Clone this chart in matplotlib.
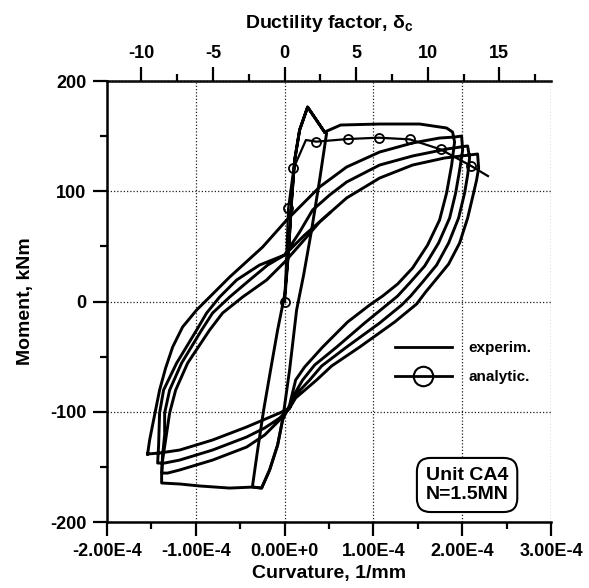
import matplotlib
matplotlib.use("Agg")
import matplotlib.pyplot as plt
from matplotlib.lines import Line2D
from matplotlib.ticker import MultipleLocator, FuncFormatter
import math

plt.rcParams['font.family'] = ['Liberation Sans', 'DejaVu Sans']
plt.rcParams['font.weight'] = 'bold'
plt.rcParams['axes.unicode_minus'] = False
plt.rcParams['mathtext.fontset'] = 'custom'
plt.rcParams['mathtext.rm'] = 'Liberation Sans:bold'
plt.rcParams['mathtext.it'] = 'Liberation Sans:bold'
plt.rcParams['mathtext.bf'] = 'Liberation Sans:bold'

# ---------------- data (curvature in 1E-4 1/mm, moment in kNm) ----------------
CURV_UNIT = 1e-4
YIELD_CURV = 1.612e-5   # curvature at ductility factor 1

# first small cycle (virgin loading, narrow loop)
narrow = [(0.0, 0.0), (0.045, 46.7), (0.079, 92.1), (0.113, 128.3), (0.169, 155.6),
          (0.259, 176.4), (0.45, 153.7), (0.473, 152.8), (0.394, 110.2), (0.304, 64.9),
          (0.214, 24.0), (0.135, -7.7), (0.056, -62.1), (-0.023, -107.5), (-0.079, -130.2),
          (-0.169, -152.8), (-0.259, -169.2), (-0.360, -168.3), (-0.360, -166.4),
          (-0.304, -134.7), (-0.236, -98.4), (-0.158, -62.1), (-0.079, -25.9), (0.0, 5.9),
          (0.045, 46.7), (0.079, 92.1), (0.113, 128.3), (0.169, 155.6), (0.259, 176.4),
          (0.45, 153.7)]

# first large cycle
cycle1 = [(0.45, 153.7), (0.631, 160.1), (1.070, 161.0), (1.520, 161.0), (1.824, 157.4),
          (1.892, 153.7), (1.914, 144.7), (1.881, 123.8), (1.824, 98.4), (1.745, 73.9),
          (1.610, 51.2), (1.441, 30.4), (1.273, 15.9), (1.104, 5.0), (0.957, -3.2),
          (0.709, -18.6), (0.428, -41.3), (0.225, -59.4), (0.124, -71.2), (0.056, -93.9),
          (-0.023, -107.5), (-0.079, -130.2), (-0.169, -152.8), (-0.259, -169.2),
          (-0.360, -168.3), (-0.619, -169.2), (-0.957, -167.3), (-1.182, -165.5),
          (-1.385, -164.6), (-1.385, -157.4), (-1.374, -143.8), (-1.340, -125.6),
          (-1.295, -101.1), (-1.227, -80.3), (-1.092, -55.8), (-0.845, -25.9),
          (-0.698, -10.4), (-0.473, 4.1), (-0.203, 19.5), (0.0, 35.8), (0.169, 51.2),
          (0.394, 72.1), (0.507, 80.3)]

# reloading from last negative peak up to second positive peak
reload_outer = [(-1.543, -138.3), (-1.520, -125.6), (-1.498, -116.6), (-1.453, -98.4),
                (-1.408, -80.3), (-1.340, -60.3), (-1.261, -41.3), (-1.149, -23.1),
                (-0.991, -7.7), (-0.788, 8.6), (-0.619, 22.2), (-0.248, 49.4),
                (0.023, 73.9), (0.394, 103.9), (0.698, 122.0), (1.070, 135.6),
                (1.441, 143.8), (1.745, 148.3), (1.914, 149.2), (1.993, 150.1)]

cycle2 = [(2.005, 137.4), (1.971, 119.3), (1.926, 98.4), (1.858, 75.7), (1.734, 53.1),
          (1.577, 32.2), (1.408, 16.8), (1.273, 5.0), (1.149, -3.2), (0.901, -19.5),
          (0.586, -41.3), (0.338, -57.6), (0.203, -71.2), (0.079, -88.4), (0.056, -96.6),
          (-0.056, -107.5), (-0.225, -121.1), (-0.428, -132.0), (-0.811, -143.8),
          (-1.182, -152.8), (-1.318, -155.6), (-1.385, -155.6), (-1.374, -139.2),
          (-1.351, -121.1), (-1.351, -101.1), (-1.295, -80.3), (-1.160, -55.8),
          (-0.935, -25.9), (-0.811, -10.4), (-0.619, 4.1), (-0.394, 19.5), (-0.191, 33.1),
          (0.0, 42.2), (0.169, 63.0), (0.315, 83.0), (0.507, 96.6), (0.698, 108.4),
          (1.070, 123.8), (1.441, 132.0), (1.824, 138.3), (2.061, 141.1)]

cycle3 = [(2.083, 130.2), (2.061, 114.7), (2.027, 98.4), (1.959, 75.7), (1.847, 53.1),
          (1.712, 33.1), (1.554, 17.7), (1.419, 5.0), (1.318, -3.2), (1.070, -19.5),
          (0.698, -41.3), (0.417, -58.5), (0.282, -71.2), (0.101, -86.6), (0.056, -96.6),
          (-0.056, -105.7), (-0.225, -114.7), (-0.428, -122.9), (-0.811, -134.7),
          (-1.182, -143.8), (-1.351, -146.5), (-1.430, -146.5), (-1.419, -130.2),
          (-1.408, -101.1), (-1.363, -80.3), (-1.216, -55.8), (-0.991, -25.9),
          (-0.878, -10.4), (-0.732, 4.1), (-0.541, 19.5), (-0.282, 33.1), (0.0, 42.2),
          (0.225, 60.3), (0.507, 80.3), (0.698, 93.9), (1.070, 112.0), (1.441, 123.8),
          (1.802, 130.2), (2.083, 132.9), (2.173, 133.8)]

cycle4 = [(2.185, 121.1), (2.162, 110.2), (2.128, 98.4), (2.061, 75.7), (1.971, 53.1),
          (1.847, 34.0), (1.700, 19.5), (1.588, 8.6), (1.486, -2.3), (1.239, -18.6),
          (0.845, -41.3), (0.529, -58.5), (0.360, -71.2), (0.124, -87.5), (0.056, -96.6),
          (-0.056, -101.1), (-0.428, -113.8), (-0.811, -125.6), (-1.182, -134.7),
          (-1.408, -137.4), (-1.543, -138.3)]

# analytical prediction
analytic_curv = [0.0, 0.04, 0.10, 0.24, 0.357, 0.713, 1.059, 1.408, 1.757, 2.102, 2.29]
analytic_moment = [0.0, 84.5, 120.8, 146.5, 145.0, 147.4, 148.6, 147.1, 138.0, 122.9, 113.8]
analytic_marked = [0, 1, 2, 4, 5, 6, 7, 8, 9]

curv_ticks = [-2e-4, -1e-4, 0.0, 1e-4, 2e-4, 3e-4]
moment_ticks = [-200, -100, 0, 100, 200]
ductility_ticks = [-10, -5, 0, 5, 10, 15]

# ---------------- figure ----------------
fig = plt.figure(figsize=(5.89, 5.88), dpi=100)
ax = fig.add_axes([0.1817, 0.1122, 0.7538, 0.75])

exp_branches = [narrow, cycle1, reload_outer + cycle2 + cycle3 + cycle4]
for br in exp_branches:
    xs = [p[0] * CURV_UNIT for p in br]
    ys = [p[1] for p in br]
    ax.plot(xs, ys, color='k', lw=2.1, solid_joinstyle='round', zorder=3)

ax.plot([c * CURV_UNIT for c in analytic_curv], analytic_moment, color='k', lw=1.6,
        marker='o', markevery=analytic_marked, ms=6.5, mfc='none', mec='k', mew=1.3,
        zorder=4)

ax.set_xlim(-2e-4, 3e-4)
ax.set_ylim(-200, 200)
ax.set_xticks(curv_ticks)
ax.set_yticks(moment_ticks)
ax.xaxis.set_minor_locator(MultipleLocator(0.5e-4))
ax.yaxis.set_minor_locator(MultipleLocator(50))


def sci_fmt(v, pos=None):
    if abs(v) < 1e-12:
        return "0.00E+0"
    e = int(math.floor(math.log10(abs(v)) + 1e-9))
    return f"{v / 10 ** e:.2f}E{e:+d}".replace("E+-", "E-")


ax.xaxis.set_major_formatter(FuncFormatter(sci_fmt))
ax.tick_params(which='major', direction='out', length=10, width=1.6, labelsize=13, pad=5)
ax.tick_params(which='minor', direction='out', length=5, width=1.6)

ax.grid(True, which='major', ls=(0, (1, 1.6)), lw=0.9, color='#222222')
ax.set_axisbelow(True)
ax.spines['right'].set_visible(False)
ax.spines['top'].set_visible(False)
for s in ['left', 'bottom']:
    ax.spines[s].set_linewidth(1.8)

secax = ax.secondary_xaxis('top', functions=(lambda c: c / YIELD_CURV,
                                             lambda d: d * YIELD_CURV))
secax.set_xticks(ductility_ticks)
secax.xaxis.set_minor_locator(MultipleLocator(2.5))
secax.tick_params(which='major', direction='out', length=10, width=1.6, labelsize=13, pad=4)
secax.tick_params(which='minor', direction='out', length=5, width=1.6)
secax.spines['top'].set_linewidth(1.8)

ax_pos = ax.get_position()
fig.text(ax_pos.x0 + ax_pos.width / 2, 1 - 24 / 588, r"Ductility factor, $\delta_c$",
         fontsize=14, fontweight='bold', ha='center', va='center')

ax.set_xlabel("Curvature, 1/mm", fontsize=14, fontweight='bold')
ax.xaxis.set_label_coords(0.5, -0.097)
ax.set_ylabel("Moment, kNm", fontsize=14, fontweight='bold')
ax.yaxis.set_label_coords(-0.165, 0.5)

handles = [Line2D([], [], color='k', lw=2.0),
           Line2D([], [], color='k', lw=2.0, marker='o', ms=14, mfc='none', mec='k', mew=1.5)]
ax.legend(handles, ["experim.", "analytic."], loc='upper left', bbox_to_anchor=(0.649, 0.41),
          frameon=False, fontsize=11, handlelength=3.7, handletextpad=1.1,
          labelspacing=1.0, borderpad=0, borderaxespad=0)

ax.text(0.811, 0.084, "Unit CA4\nN=1.5MN", transform=ax.transAxes, ha='center', va='center',
        fontsize=14, fontweight='bold', linespacing=1.2,
        bbox=dict(boxstyle='round,pad=0.45,rounding_size=0.7', fc='white', ec='k', lw=1.5),
        zorder=5)

fig.savefig("out.png", dpi=100)
